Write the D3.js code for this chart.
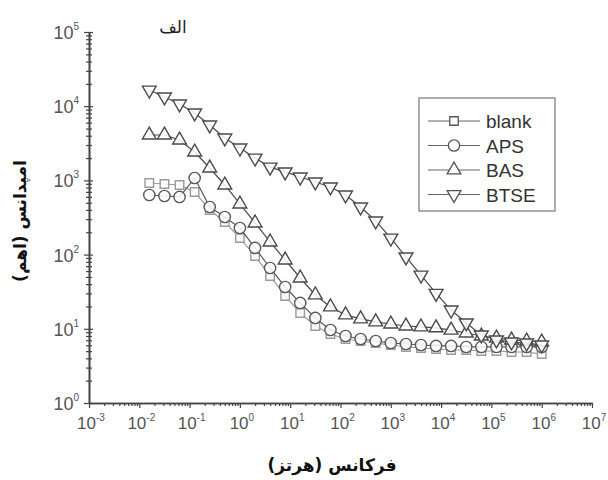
<!DOCTYPE html>
<html>
<head>
<meta charset="utf-8">
<script src="https://cdn.jsdelivr.net/npm/d3@7"></script>
<style>
  html, body { margin: 0; padding: 0; background: #fff; }
  svg { display: block; }
</style>
</head>
<body>
<svg id="chart" width="608" height="480"></svg>
<script>
// ---- data ----
const frequency = [0.0158, 0.0316, 0.0631, 0.126, 0.251, 0.501, 1, 2, 3.98, 7.94, 15.8, 31.6, 63.1, 126, 251, 501, 1000, 2000, 3980, 7940, 15800, 31600, 63100, 126000, 251000, 501000, 1000000];
const blank = [922, 894, 867, 698, 399, 275, 167, 95.7, 51.5, 27.7, 16.3, 10.9, 8.51, 7.29, 6.85, 6.43, 6.05, 5.69, 5.51, 5.34, 5.18, 5.18, 5.02, 5.02, 4.87, 4.87, 4.57];
const APS = [636, 616, 598, 1077, 438, 321, 228, 123, 66, 36.6, 22.3, 14.0, 9.64, 8.0, 7.29, 6.85, 6.43, 6.24, 6.05, 5.87, 5.87, 5.69, 5.69, 5.69, 5.69, 5.69, 5.69];
const BAS = [4090, 4090, 3500, 2415, 1470, 867, 481, 267, 148, 84.6, 48.4, 28.6, 19.7, 15.4, 13.6, 12.4, 11.6, 10.9, 10.6, 10.3, 9.6, 8.78, 8.0, 7.52, 7.06, 6.85, 6.64];
const BTSE = [16500, 13300, 10700, 8100, 5580, 3730, 2730, 2000, 1510, 1300, 1110, 951, 815, 636, 438, 284, 167, 93, 53, 30, 17.9, 12.0, 8.25, 7.06, 6.64, 6.43, 6.05];
const seriesNames = ["blank", "APS", "BAS", "BTSE"];
const xTickExponents = [-3, -2, -1, 0, 1, 2, 3, 4, 5, 6, 7];
const yTickExponents = [0, 1, 2, 3, 4, 5];
const titleText = "الف";
const xTitle = "فرکانس (هرتز)";
const yTitle = "امپدانس (اهم)";

// ---- drawing ----
const svg = d3.select("#chart");
const x = d3.scaleLog().domain([1e-3, 1e7]).range([89, 592]);
const y = d3.scaleLog().domain([1, 1e5]).range([403, 32]);

const axisColor = "#444";
const labelColor = "#555";

const xMinor = [], yMinor = [];
for (let e = -3; e < 7; e++) for (let m = 2; m <= 9; m++) xMinor.push(m * Math.pow(10, e));
for (let e = 0; e < 5; e++) for (let m = 2; m <= 9; m++) yMinor.push(m * Math.pow(10, e));
const xMajor = xTickExponents.map(e => Math.pow(10, e));
const yMajor = yTickExponents.map(e => Math.pow(10, e));

function styleAxis(g) {
  g.selectAll("path").attr("stroke", axisColor).attr("stroke-width", 1.6);
  g.selectAll("line").attr("stroke", axisColor).attr("stroke-width", 1.2);
}

// bottom axis
svg.append("g").attr("transform", "translate(0,403)")
  .call(d3.axisBottom(x).tickValues(xMinor).tickSize(3).tickSizeOuter(0).tickFormat(""))
  .call(styleAxis);
svg.append("g").attr("transform", "translate(0,403)")
  .call(d3.axisBottom(x).tickValues(xMajor).tickSize(5).tickSizeOuter(0).tickFormat(""))
  .call(styleAxis);
// left axis (ticks crossing the line)
const yMin = svg.append("g").attr("transform", "translate(89,0)")
  .call(d3.axisLeft(y).tickValues(yMinor).tickSize(3).tickSizeOuter(0).tickFormat(""))
  .call(styleAxis);
yMin.selectAll(".tick line").attr("x1", 3);
const yMaj = svg.append("g").attr("transform", "translate(89,0)")
  .call(d3.axisLeft(y).tickValues(yMajor).tickSize(5).tickSizeOuter(0).tickFormat(""))
  .call(styleAxis);
yMaj.selectAll(".tick line").attr("x1", 4);

// tick labels with superscripts
const labFont = "Liberation Sans, Arial, sans-serif";
xTickExponents.forEach(e => {
  const t = svg.append("text")
    .attr("x", x(Math.pow(10, e)) + 2)
    .attr("y", 429)
    .attr("text-anchor", "middle")
    .attr("font-family", labFont)
    .attr("font-size", 17)
    .attr("fill", labelColor);
  t.append("tspan").text("10");
  t.append("tspan").attr("dy", -8).attr("font-size", 10).text(String(e));
});
yTickExponents.forEach(e => {
  const t = svg.append("text")
    .attr("x", 79)
    .attr("y", y(Math.pow(10, e)) + 7)
    .attr("text-anchor", "end")
    .attr("font-family", labFont)
    .attr("font-size", 18)
    .attr("fill", labelColor);
  t.append("tspan").text("10");
  t.append("tspan").attr("dy", -9).attr("font-size", 10).text(String(e));
});

// series
const seriesData = [blank, APS, BAS, BTSE];
const seriesColor = ["#9a9a9a", "#5a5a5a", "#4a4a4a", "#4a4a4a"];
const symbols = [
  d3.symbol(d3.symbolSquare, 72),
  d3.symbol(d3.symbolCircle, 100),
  d3.symbol(d3.symbolTriangle, 82),
  d3.symbol(d3.symbolTriangle, 82)
];
const rot = [0, 0, 0, 180];
const line = d3.line().x(d => x(d[0])).y(d => y(d[1]));

seriesData.forEach((vals, i) => {
  const pts = frequency.map((f, k) => [f, vals[k]]);
  const g = svg.append("g");
  g.append("path").datum(pts).attr("d", line)
    .attr("fill", "none").attr("stroke", seriesColor[i]).attr("stroke-width", 1.2);
  g.selectAll("path.m").data(pts).enter().append("path")
    .attr("class", "m")
    .attr("d", symbols[i])
    .attr("transform", d => `translate(${x(d[0])},${y(d[1])}) rotate(${rot[i]})`)
    .attr("fill", "#fff")
    .attr("fill-opacity", 0.85)
    .attr("stroke", seriesColor[i])
    .attr("stroke-width", 1.4);
});

// legend
const lg = svg.append("g");
lg.append("rect").attr("x", 419).attr("y", 98).attr("width", 136).attr("height", 113)
  .attr("fill", "#fff").attr("stroke", "#777").attr("stroke-width", 1.2);
seriesNames.forEach((name, i) => {
  const yy = 121 + i * 24.5;
  lg.append("line").attr("x1", 428).attr("x2", 480).attr("y1", yy).attr("y2", yy)
    .attr("stroke", "#666").attr("stroke-width", 1.2);
  lg.append("path").attr("d", symbols[i])
    .attr("transform", `translate(454,${yy}) rotate(${rot[i]})`)
    .attr("fill", "#fff").attr("stroke", "#555").attr("stroke-width", 1.3);
  lg.append("text").attr("x", 486).attr("y", yy + 7)
    .attr("font-family", labFont).attr("font-size", 19)
    .attr("fill", "#333").text(name);
});

// titles
const arFont = "DejaVu Sans, Noto Sans, sans-serif";
svg.append("text").attr("x", 173).attr("y", 33).attr("text-anchor", "middle")
  .attr("font-family", arFont).attr("font-size", 17).attr("fill", "#222")
  .attr("direction", "rtl").text(titleText);
svg.append("text").attr("x", 332).attr("y", 471).attr("text-anchor", "middle")
  .attr("font-family", arFont).attr("font-size", 17).attr("font-weight", "bold").attr("fill", "#111")
  .attr("direction", "rtl").text(xTitle);
svg.append("text").attr("transform", "translate(26,221) rotate(-90)").attr("text-anchor", "middle")
  .attr("font-family", arFont).attr("font-size", 17).attr("font-weight", "bold").attr("fill", "#111")
  .attr("direction", "rtl").text(yTitle);
</script>
</body>
</html>
